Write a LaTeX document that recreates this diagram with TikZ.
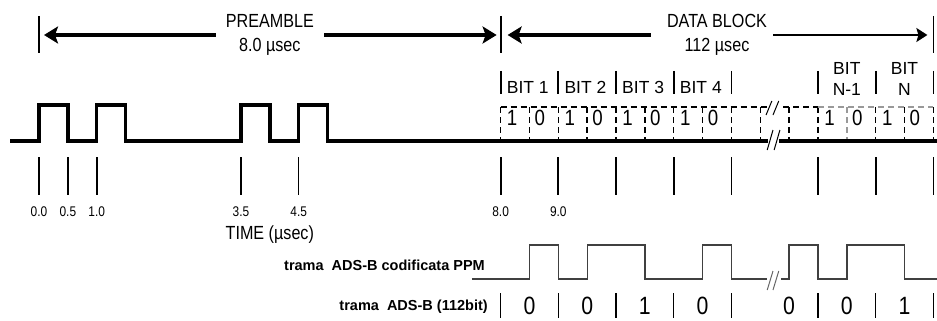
\documentclass[tikz,border=0pt]{standalone}
\usepackage{fontspec}
\setmainfont{Liberation Sans}
\newfontfamily\narrowsans{Liberation Sans}[FakeStretch=0.85]
\usetikzlibrary{arrows.meta}

\begin{document}
\begin{tikzpicture}[x=57.7pt, y=-1pt,
  sig/.style={line width=3.4pt},
  ppm/.style={line width=1.3pt, black!75},
  bar/.style={line width=1.8pt},
  thinbar/.style={line width=1.1pt},
  halfbox/.style={line width=1.5pt, dash pattern=on 6pt off 4pt},
  brk/.style={line width=1pt},
  big/.style={font=\narrowsans\fontsize{19}{24}\selectfont, inner sep=0pt, align=center},
  bitlbl/.style={font=\fontsize{17.5}{21}\selectfont, inner sep=0pt},
  dig/.style={font=\narrowsans\fontsize{22}{22}\selectfont, inner sep=0pt},
  ticklbl/.style={font=\narrowsans\fontsize{14}{14}\selectfont, inner sep=0pt},
  trama/.style={font=\bfseries\fontsize{14.5}{16}\selectfont, inner sep=0pt, anchor=east},
  bitval/.style={font=\narrowsans\fontsize{25}{25}\selectfont, inner sep=0pt},
  bigarrow/.style={line width=3.5pt, -{Stealth[length=14pt,width=17pt,inset=3pt]}}]
  \useasboundingbox (-0.676,0) rectangle (15.5625,320);

  % preamble and data block spans
  \draw[bar] (0,16) -- (0,53);
  \draw[bar] (8,16) -- (8,53);
  \draw[bar] (15.5,16) -- (15.5,53);
  \coordinate (p0) at (0,35);
  \coordinate (p8) at (8,35);
  \coordinate (p15) at (15.5,35);
  \node[big] (pre) at (4,35) {PREAMBLE\\8.0 µsec};
  \node[big] (data) at (11.75,35) {DATA BLOCK\\112 µsec};
  \draw[bigarrow, shorten <=10pt, shorten >=5pt] (pre.west |- p0) -- (p0);
  \draw[bigarrow, shorten <=10pt, shorten >=4pt] (pre.east |- p0) -- (p8);
  \draw[bigarrow, shorten <=16pt, shorten >=7pt] (data.west |- p8) -- (p8);
  \draw[line width=1.8pt, -{Stealth[length=11pt,width=14pt,inset=2pt]}, shorten <=6pt, shorten >=6pt] (data.east |- p15) -- (p15);

  % bit labels
  \foreach \t in {8,9,10,11,12,13.5,14.5,15.5}
    \draw[bar] (\t,71) -- (\t,94);
  \foreach \t/\n in {8/1,9/2,10/3,11/4}
    \node[bitlbl, anchor=west, xshift=6pt] (bit\n) at (\t,87) {BIT \n};
  \node[bitlbl, align=center] (bitn1) at (14,79) {BIT\\N-1};
  \node[bitlbl, align=center] (bitn) at (15,79) {BIT\\N};

  % half bit boxes
  \foreach \t in {8,8.5,9,9.5,10,10.5,11,11.5,12,12.5,13,13.5,14.5,15,15.5}
    \draw[halfbox] (\t,107) -- (\t,141);
  \draw[halfbox, black!40] (14,107) -- (14,141);
  \draw[halfbox] (8,107) -- (12.62,107);
  \draw[halfbox] (12.9,107) -- (13.5,107);
  \draw[halfbox, black!40] (13.5,107) -- (15.5,107);
  \foreach \t [count=\i] in {8,9,10,11,13.5,14.5} {
    \node[dig] (one\i) at (\t+0.2,118) {1};
    \node[dig] (zero\i) at (\t+0.68,118) {0};
  }
  \draw[brk] (12.60,115) -- (12.70,101);
  \draw[brk] (12.72,115) -- (12.82,101);

  % signal
  \draw[sig] (-0.5,141) -- (0,141) -- (0,105) -- (0.5,105) -- (0.5,141)
    -- (1,141) -- (1,105) -- (1.5,105) -- (1.5,141) -- (3.5,141) -- (3.5,105)
    -- (4,105) -- (4,141) -- (4.5,141) -- (4.5,105) -- (5,105) -- (5,141) -- (12.64,141);
  \draw[sig] (12.82,141) -- (15.5625,141);
  \draw[brk] (12.62,150) -- (12.72,130);
  \draw[brk] (12.74,150) -- (12.84,130);

  % time marks
  \foreach \t in {0,0.5,1,3.5,8,9,11,12,13.5,14.5}
    \draw[bar] (\t,157) -- (\t,195);
  \foreach \t in {4.5,10,15.5}
    \draw[thinbar] (\t,157) -- (\t,195);
  \foreach \t [count=\i] in {0.0,0.5,1.0,3.5,4.5,8.0,9.0}
    \node[ticklbl] (tk\i) at (\t,212) {\t};
  \node[big] (time) at (4,235) {TIME (µsec)};

  % PPM frame
  \node[trama] (ppmlbl) at (7.73,265) {trama\ \ ADS-B codificata PPM};
  \draw[ppm] (7.5,279) -- (8.5,279) -- (8.5,245) -- (9,245) -- (9,279) -- (9.5,279)
    -- (9.5,245) -- (10.5,245) -- (10.5,279) -- (11.5,279) -- (11.5,245) -- (12,245)
    -- (12,279) -- (12.62,279);
  \draw[ppm] (12.86,279) -- (13,279) -- (13,245) -- (13.5,245) -- (13.5,279) -- (14,279)
    -- (14,245) -- (15,245) -- (15,279) -- (15.5625,279);
  \draw[brk, black!60] (12.62,290) -- (12.72,271);
  \draw[brk, black!60] (12.72,290) -- (12.82,271);

  % 112 bit frame
  \node[trama] (rawlbl) at (7.78,307) {trama\ \ ADS-B (112bit)};
  \foreach \t in {8,9,10,11,12,13.5,14.5,15.5}
    \draw[thinbar] (\t,293) -- (\t,318);
  \foreach \t/\v [count=\i] in {8.5/0,9.5/0,10.5/1,11.5/0,13/0,14/0,15/1}
    \node[bitval] (v\i) at (\t,306) {\v};
\end{tikzpicture}
\end{document}
